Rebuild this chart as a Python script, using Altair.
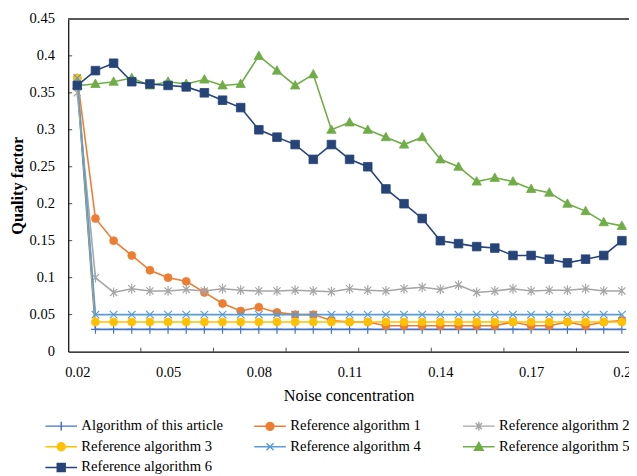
import altair as alt
import pandas as pd

# ---- data ----
noise = [0.02, 0.026, 0.032, 0.038, 0.044, 0.05, 0.056, 0.062, 0.068, 0.074,
         0.08, 0.086, 0.092, 0.098, 0.104, 0.11, 0.116, 0.122, 0.128, 0.134,
         0.14, 0.146, 0.152, 0.158, 0.164, 0.17, 0.176, 0.182, 0.188, 0.194, 0.2]

names = ["Algorithm of this article", "Reference algorithm 1", "Reference algorithm 2",
         "Reference algorithm 3", "Reference algorithm 4", "Reference algorithm 5",
         "Reference algorithm 6"]

this_article = [0.36, 0.03, 0.03, 0.03, 0.03, 0.03, 0.03, 0.03, 0.03, 0.03,
                0.03, 0.03, 0.03, 0.03, 0.03, 0.03, 0.03, 0.03, 0.03, 0.03,
                0.03, 0.03, 0.03, 0.03, 0.03, 0.03, 0.03, 0.03, 0.03, 0.03, 0.03]
ref1 = [0.37, 0.18, 0.15, 0.13, 0.11, 0.10, 0.095, 0.08, 0.065, 0.055,
        0.06, 0.053, 0.05, 0.05, 0.042, 0.04, 0.04, 0.035, 0.035, 0.035,
        0.035, 0.035, 0.035, 0.035, 0.04, 0.035, 0.035, 0.04, 0.035, 0.04, 0.042]
ref2 = [0.35, 0.10, 0.08, 0.085, 0.082, 0.082, 0.084, 0.082, 0.085, 0.083,
        0.082, 0.082, 0.083, 0.082, 0.081, 0.085, 0.083, 0.082, 0.085, 0.087,
        0.084, 0.09, 0.08, 0.082, 0.085, 0.082, 0.083, 0.083, 0.085, 0.082, 0.082]
ref3 = [0.37, 0.04, 0.04, 0.04, 0.04, 0.04, 0.04, 0.04, 0.04, 0.04,
        0.04, 0.04, 0.04, 0.04, 0.04, 0.04, 0.04, 0.04, 0.04, 0.04,
        0.04, 0.04, 0.04, 0.04, 0.04, 0.04, 0.04, 0.04, 0.04, 0.04, 0.04]
ref4 = [0.37, 0.05, 0.05, 0.05, 0.05, 0.05, 0.05, 0.05, 0.05, 0.05,
        0.05, 0.05, 0.05, 0.05, 0.05, 0.05, 0.05, 0.05, 0.05, 0.05,
        0.05, 0.05, 0.05, 0.05, 0.05, 0.05, 0.05, 0.05, 0.05, 0.05, 0.05]
ref5 = [0.36, 0.362, 0.365, 0.37, 0.36, 0.365, 0.362, 0.368, 0.36, 0.362,
        0.40, 0.38, 0.36, 0.375, 0.30, 0.31, 0.30, 0.29, 0.28, 0.29,
        0.26, 0.25, 0.23, 0.235, 0.23, 0.22, 0.215, 0.20, 0.19, 0.175, 0.17]
ref6 = [0.36, 0.38, 0.39, 0.365, 0.362, 0.36, 0.358, 0.35, 0.34, 0.33,
        0.30, 0.29, 0.28, 0.26, 0.28, 0.26, 0.25, 0.22, 0.20, 0.18,
        0.15, 0.146, 0.142, 0.14, 0.13, 0.13, 0.125, 0.12, 0.125, 0.13, 0.15]

x_labels = [0.02, 0.05, 0.08, 0.11, 0.14, 0.17, 0.2]
x_tick_marks = [0.041, 0.065, 0.089, 0.113, 0.137, 0.161, 0.185]
y_labels = [0, 0.05, 0.1, 0.15, 0.2, 0.25, 0.3, 0.35, 0.4, 0.45]

series_values = [this_article, ref1, ref2, ref3, ref4, ref5, ref6]

# ---- styles ----
colors = ["#4472C4", "#ED7D31", "#A5A5A5", "#FFC000", "#5B9BD5", "#70AD47", "#264478"]
PLUS = "M0,-1V1M-1,0H1"
STAR = "M-0.8,-0.8L0.8,0.8M-0.8,0.8L0.8,-0.8M0,-1.1V1.1"
XMARK = "M-1,-1L1,1M-1,1L1,-1"
TRI = "M0,-1.1L1.05,0.8H-1.05Z"
markers = [(PLUS, False, 81), ("circle", True, 64), (STAR, False, 81), ("circle", True, 64),
           (XMARK, False, 60), (TRI, True, 81), ("square", True, 76)]

LINE = "M-4,0H4"
legend_paths = [
    LINE + "M0,-1.1V1.1",
    LINE + "M-1,0A1,1 0 1,1 1,0A1,1 0 1,1 -1,0Z",
    LINE + "M-0.8,-0.8L0.8,0.8M-0.8,0.8L0.8,-0.8M0,-1.1V1.1",
    LINE + "M-1,0A1,1 0 1,1 1,0A1,1 0 1,1 -1,0Z",
    LINE + "M-0.9,-0.9L0.9,0.9M-0.9,0.9L0.9,-0.9",
    LINE + "M0,-1.1L1.1,0.9H-1.1Z",
    LINE + "M-1,-1H1V1H-1Z",
]

FONT = "Liberation Serif"
FS = 14.67
FS_LEG = 14.8
FS_TITLE = 16.5
W, H = 568, 337

rows = []
for name, vals in zip(names, series_values):
    for xv, yv in zip(noise, vals):
        rows.append({"series": name, "noise": xv, "value": yv})
df = pd.DataFrame(rows)

xscale = alt.Scale(domain=[0.017, 0.20235], nice=False, zero=False)
yscale = alt.Scale(domain=[0, 0.45], nice=False)

X = alt.X("noise:Q", scale=xscale,
          axis=alt.Axis(values=x_labels, format=".2~f", title="Noise concentration",
                        ticks=False, grid=False, labelPadding=13, labelOverlap=False,
                        labelFlush=False, domainColor="#000000", domainWidth=1.2,
                        titleX=W / 2, titleY=45, titleBaseline="middle",
                        titleFontWeight="normal"))
Y = alt.Y("value:Q", scale=yscale,
          axis=alt.Axis(values=y_labels, format=".2~f", title="Quality factor",
                        ticks=False, grid=False, labelPadding=14, labelOverlap=False,
                        labelFlush=False, domainColor="#000000", domainWidth=1.2,
                        titleX=-51, titleY=H / 2, titleAngle=270, titleAlign="center",
                        titleBaseline="middle", titleFontWeight="bold"))

layers = []

# inner tick marks
ytick_df = pd.DataFrame({"value": y_labels[1:]})
layers.append(alt.Chart(ytick_df).mark_tick(orient="horizontal", size=4, thickness=1, color="#000000")
              .encode(y=Y, x=alt.value(2)))
xtick_df = pd.DataFrame({"noise": x_tick_marks})
layers.append(alt.Chart(xtick_df).mark_tick(orient="vertical", size=4, thickness=1, color="#000000")
              .encode(x=X, y=alt.value(H - 2)))
# top border of the plot area
layers.append(alt.Chart(ytick_df).mark_rule(color="#595959", strokeWidth=1.5)
              .encode(x=alt.value(0), x2=alt.value(W), y=alt.value(0)))

for name, col, (shape, filled, size) in zip(names, colors, markers):
    base = alt.Chart(df).transform_filter(alt.datum.series == name)
    layers.append(base.mark_line(color=col, strokeWidth=1.6).encode(x=X, y=Y))
    if filled:
        pt = base.mark_point(shape=shape, filled=True, fill=col, stroke=col, strokeWidth=0.8,
                             size=size, opacity=1)
    else:
        pt = base.mark_point(shape=shape, filled=False, stroke=col, strokeWidth=1.2,
                             size=size, opacity=1)
    layers.append(pt.encode(x=X, y=Y))

leg = alt.Legend(title=None, orient="none", legendX=-14.5, legendY=405, direction="horizontal",
                 columns=3, gridAlign="all", columnPadding=27.5, rowPadding=5,
                 labelFont=FONT, labelFontSize=FS_LEG, labelColor="#000000", labelLimit=400,
                 labelOffset=13, symbolSize=64, symbolStrokeWidth=1.5, symbolOpacity=1)
cscale = alt.Scale(domain=names, range=colors)
legend_layer = alt.Chart(df).mark_point(filled=True, opacity=0).encode(
    x=X, y=Y,
    color=alt.Color("series:N", scale=cscale, legend=leg),
    stroke=alt.Stroke("series:N", scale=cscale, legend=leg),
    shape=alt.Shape("series:N", scale=alt.Scale(domain=names, range=legend_paths), legend=leg),
)
layers.append(legend_layer)

chart = alt.layer(*layers).properties(
    width=W, height=H,
    padding={"left": 61, "top": 8, "right": 0, "bottom": 123},
    autosize=alt.AutoSizeParams(type="none"),
    background="white",
).configure_view(stroke=None).configure_axis(
    labelFont=FONT, titleFont=FONT, labelFontSize=FS, titleFontSize=FS_TITLE,
    labelColor="#000000", titleColor="#000000",
)

chart.save("out.html", embed_options={"renderer": "svg", "actions": False})
